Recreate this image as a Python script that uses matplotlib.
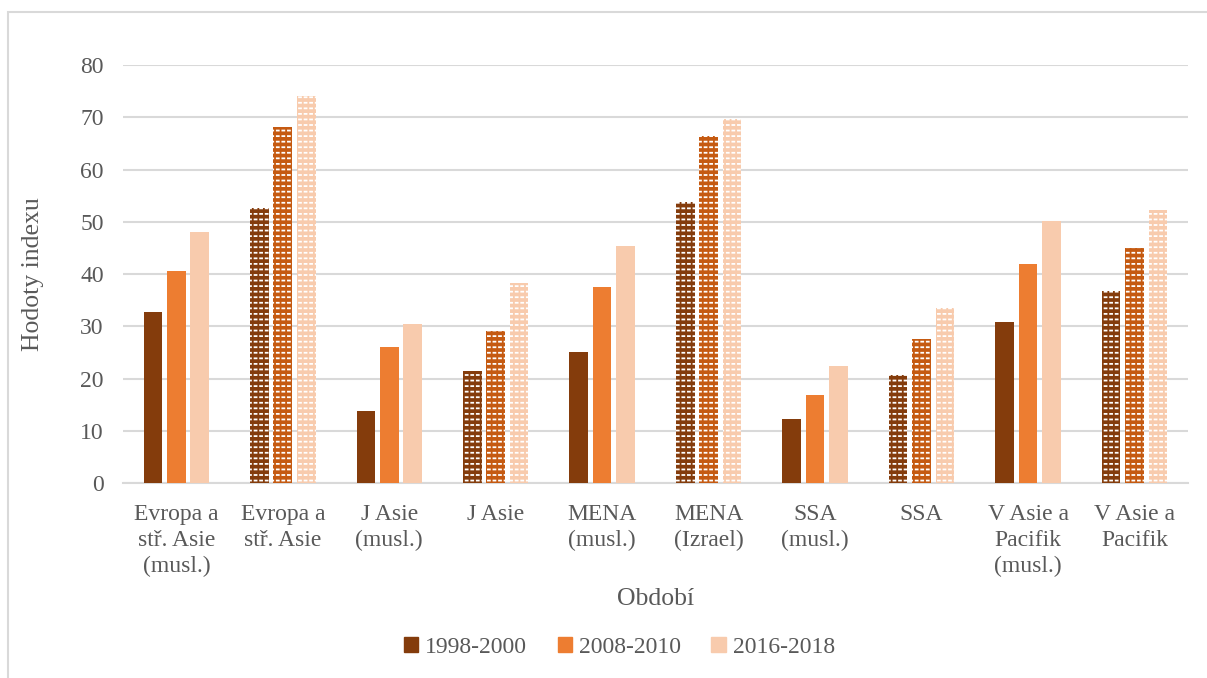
import matplotlib.pyplot as plt
import numpy as np
from matplotlib.patches import Rectangle

plt.rcParams['font.family'] = ['Liberation Serif', 'DejaVu Serif']
plt.rcParams['hatch.linewidth'] = 1.3

categories = ["Evropa a\nstř. Asie\n(musl.)", "Evropa a\nstř. Asie", "J Asie\n(musl.)", "J Asie",
              "MENA\n(musl.)", "MENA\n(Izrael)", "SSA\n(musl.)", "SSA",
              "V Asie a\nPacifik\n(musl.)", "V Asie a\nPacifik"]
series_names = ["1998-2000", "2008-2010", "2016-2018"]
s1998 = [32.7, 52.7, 13.8, 21.5, 25.1, 53.8, 12.3, 20.6, 30.8, 36.7]
s2008 = [40.5, 68.1, 26.1, 29.1, 37.6, 66.5, 16.8, 27.5, 41.9, 45.0]
s2016 = [48.1, 74.0, 30.5, 38.3, 45.4, 69.7, 22.4, 33.4, 50.2, 52.3]
hatched = [False, True, False, True, False, True, False, True, False, True]

colors = ['#843C0C', '#ED7D31', '#F8CBAD']
hatch_colors = ['#843C0C', '#C55A11', '#F8CBAD']
grey = '#595959'

fig = plt.figure(figsize=(12.07, 6.78), dpi=100)
ax = fig.add_axes([0.102, 0.2876, 0.882, 0.6165])

# outer chart border
fig.patches.append(Rectangle((8 / 1207, -0.1), 1.1, 1.1 - 12 / 678,
                             transform=fig.transFigure, fill=False,
                             edgecolor='#D9D9D9', linewidth=1.5))

x = np.arange(len(categories))
width = 0.175
offsets = [-0.22, 0.0, 0.22]
for i, vals in enumerate([s1998, s2008, s2016]):
    for j, v in enumerate(vals):
        if hatched[j]:
            # white dashes broken up by vertical lines in bar colour -> brick look
            ax.bar(x[j] + offsets[i], v, width, color=hatch_colors[i],
                   edgecolor='white', linewidth=0, hatch='---', zorder=3)
            ax.bar(x[j] + offsets[i], v, width, facecolor='none',
                   edgecolor=hatch_colors[i], linewidth=0, hatch='|||', zorder=4)
        else:
            ax.bar(x[j] + offsets[i], v, width, color=colors[i],
                   linewidth=0, zorder=3)

ax.set_xlim(-0.5, len(categories) - 0.5)
ax.set_ylim(0, 80)
ax.set_yticks(np.arange(0, 81, 10))
ax.yaxis.grid(True, color='#D9D9D9', linewidth=1.5)
ax.set_axisbelow(True)
for side in ['top', 'right', 'left']:
    ax.spines[side].set_visible(False)
ax.spines['bottom'].set_color('#D9D9D9')
ax.spines['bottom'].set_linewidth(1.5)
ax.tick_params(axis='both', length=0, labelsize=17, colors=grey, pad=14)
ax.set_xticks(x)
ax.set_xticklabels(categories, linespacing=1.3, va='top')
ax.tick_params(axis='x', pad=15)

ax.set_ylabel("Hodoty indexu", fontsize=18.5, color=grey, labelpad=26)
ax.set_xlabel("Období", fontsize=18.5, color=grey, labelpad=8)

handles = [Rectangle((0, 0), 1, 1, color=c) for c in colors]
fig.legend(handles, series_names, loc='center', bbox_to_anchor=(0.513, 0.045),
           ncol=3, frameon=False, fontsize=17, labelcolor=grey,
           handlelength=0.6, handleheight=0.6, handletextpad=0.3, columnspacing=1.3)

fig.savefig("out.png", dpi=100)
